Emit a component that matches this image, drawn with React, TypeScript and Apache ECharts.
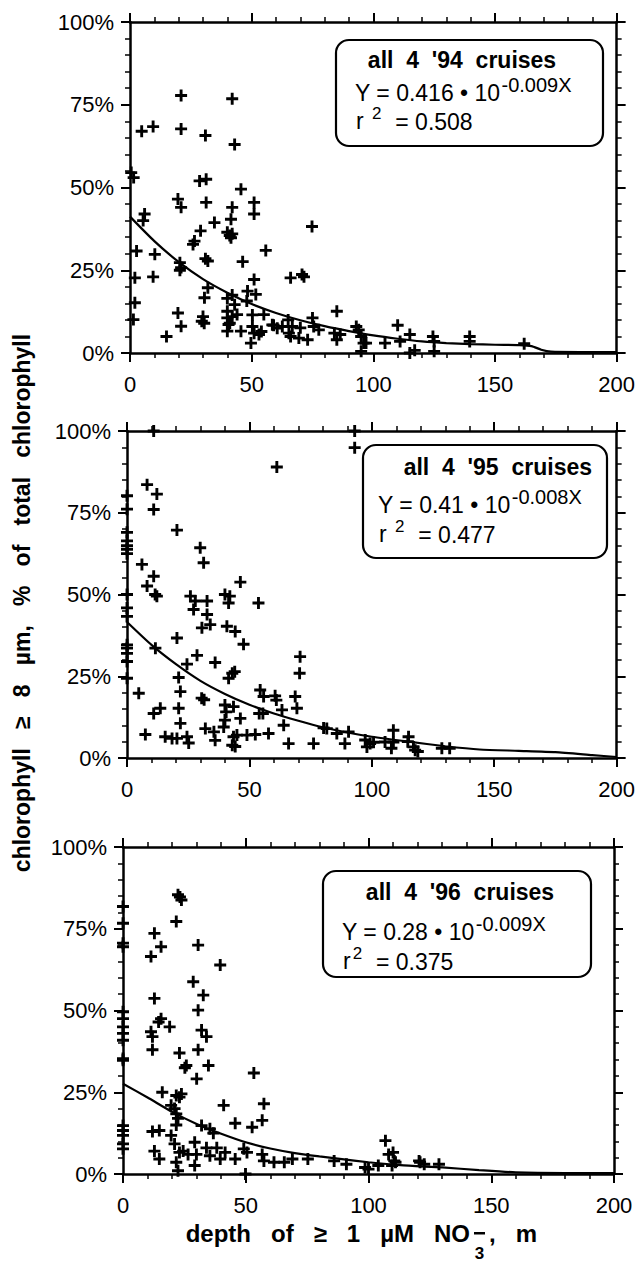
import React, { useEffect, useRef } from 'react';
import * as echarts from 'echarts';

const FONT = '"Liberation Sans", Arial, Helvetica, sans-serif';

// x tick values (m) and y tick values (%)
const xTickValues = [0, 50, 100, 150, 200];
const yTickValues = [0, 25, 50, 75, 100];

// ---- 1994: depth (m), % of chlorophyll >= 8 µm
const points94: number[][] = [
  [0.5, 54.5], [1.5, 53], [4.8, 67], [9.5, 68.4], [21, 77.8], [21, 67.7], [42, 76.8], [31, 65.7], [43, 63],
  [28.6, 52], [31.3, 52.5], [45.6, 49.5], [19.7, 46.5], [21, 44], [31.3, 45.5], [51, 45.5], [51, 42], [42, 44],
  [41.5, 40.4], [6, 42], [5.4, 40], [34.7, 39.4], [29, 36.9], [40, 36.5], [41, 35.5], [42, 36], [41.5, 34.8],
  [74.8, 38.2], [26.5, 33.8], [25.9, 32.8], [2.7, 30.8], [10.2, 29.8], [55.8, 31], [31, 28.5], [32, 27.8],
  [46.3, 27.6], [20.5, 27.3], [21, 25.8], [20.5, 25], [2, 22.7], [9.5, 23], [66, 22.7], [70.7, 23.7], [71.5, 23],
  [51, 22.2], [32, 19.7], [48.3, 18.7], [51.7, 17.7], [30.6, 16.7], [2, 15.2], [85, 12.6], [19.7, 12.1], [30, 11],
  [29.5, 9.6], [30.5, 9], [1.4, 10.1], [21, 8.1], [15, 5], [48, 15.7], [55, 11.6], [59, 8.4], [65, 10], [66.7, 8],
  [75, 10.6], [75.5, 8], [73, 4], [66, 5], [49.7, 3], [53, 5.6], [50.3, 8], [40, 12.6], [40, 10.6], [40.5, 8.6],
  [40, 6.6], [43, 14.6], [44, 11.6], [45.6, 6.6], [40, 16.5], [42, 17.5], [42, 11], [41, 9], [50.3, 11.5], [51, 6],
  [54, 6.5], [58.5, 8.5], [60.5, 7.5], [62.6, 8], [65.3, 6], [70, 7.6], [77.6, 7], [69.4, 4.5], [84, 6], [85, 4],
  [86.4, 5.6], [93, 8], [94, 7], [95, 5], [96, 3], [95, 0.5], [97, 3], [104.8, 3], [110, 8.4], [111, 3.5],
  [115, 5.6], [115, 0], [117, 0.8], [124.5, 5], [125, 3.5], [125, 0.5], [139.6, 5], [139.6, 3.5], [162, 2.8],
];
const fit94: number[][] = [
  [0, 41.2], [10, 33.8], [20, 27.5], [30, 22.3], [40, 18.2], [50, 14.8], [60, 12.1], [70, 9.9], [80, 8.1],
  [90, 6.6], [100, 5.3], [110, 4.3], [120, 3.5], [130, 3.0], [140, 2.7], [150, 2.5], [160, 2.4], [165, 2.1],
  [169, 1.0], [173, 0.4], [185, 0.3], [200, 0.3],
];

// ---- 1995
const points95: number[][] = [
  [10.9, 100], [93, 100], [93, 94.9], [61.2, 89], [8.2, 83.6], [12.2, 80.7], [10.9, 76], [20.4, 69.7], [29.9, 64.3],
  [31.3, 59.7], [6.1, 59.2], [10.9, 55.6], [8.2, 52.6], [12.2, 49.5], [11.5, 50], [46.3, 53.8], [53.7, 47.4],
  [25.9, 49.5], [27.9, 48], [32.7, 48], [27.2, 45.4], [32.7, 43.9], [34, 40.8], [30.6, 39.8], [40, 50], [42, 49.5],
  [41.5, 47.4], [40.8, 40.3], [44.2, 38.7], [47.6, 34.8], [20.4, 36.7], [11.6, 33.6], [28.6, 31.4], [36, 29.2],
  [70.7, 31], [70.5, 25.9], [21.1, 24.6], [24.5, 28.7], [41.5, 24.4], [43, 25.9], [44, 26.4], [4.8, 19.8],
  [21.8, 20.3], [30.5, 18.3], [31.5, 17.8], [54.4, 20.8], [55.8, 18.8], [60.5, 19], [61, 17.7], [68.7, 18.8],
  [69.4, 15.2], [10.9, 13.6], [13.6, 15.2], [21.1, 15.2], [21.8, 10.6], [40, 16.2], [40.5, 14.1], [40, 11.6],
  [39.5, 9.5], [43.5, 15.7], [46.3, 12.1], [54, 13.6], [55.5, 13.6], [63.3, 14.7], [64, 10], [32, 9], [35.5, 8],
  [36, 5.4], [7.5, 7.2], [15.6, 6.5], [18.4, 6], [20.4, 6], [24.5, 6.5], [25.2, 4.6], [43, 3.9], [44.2, 3.5],
  [43.5, 6.5], [44.9, 7], [49, 7], [52.4, 7.2], [57.8, 7.5], [66, 4.4], [76.2, 4.4], [80.3, 9.2], [81.6, 9],
  [85.7, 7.5], [89, 4.4], [90.5, 8], [97.3, 5.5], [99.3, 4.4], [100.7, 4.8], [98, 3.4], [105.4, 4.9], [108.8, 8.5],
  [108.8, 4.9], [115, 6.5], [117, 3.4], [117.7, 2.4], [108, 3], [114.7, 5], [118.8, 2], [128.6, 3], [131.8, 3],
  [0, 80.2], [0, 76.1], [0, 69], [0, 66.4], [0, 64.9], [0, 63.8], [0, 62.5], [0, 50], [0, 45.9], [0, 43.3],
  [0, 34.6], [0, 33.6], [0, 32], [0, 29.5], [0, 24.4],
];
const fit95: number[][] = [
  [0, 41.6], [10, 34.6], [20, 28.7], [30, 23.6], [40, 19.6], [50, 16.3], [60, 13.6], [70, 11.4], [80, 9.4],
  [90, 7.8], [100, 6.5], [115, 5.0], [130, 3.6], [144, 2.6], [160, 2.2], [175, 1.8], [190, 0.9], [200, 0.3],
];

// ---- 1996
const points96: number[][] = [
  [22.4, 85.4], [23.8, 83.8], [23.2, 84.7], [21.7, 77.2], [12.8, 73.6], [15.5, 69.5], [11.4, 66.5], [30.6, 70],
  [39.6, 63.9], [28.6, 58.8], [32.7, 54.7], [12.8, 53.7], [30.6, 50.1], [15.5, 47.5], [14.5, 46.5], [19, 45],
  [11.4, 43.5], [12, 42], [12, 38], [32, 44], [34, 42], [30.6, 38], [23, 37], [25.8, 33.2], [25.2, 32.5],
  [34.8, 33.2], [30, 29.1], [53.3, 30.9], [16, 25], [21.7, 24], [23.8, 24.5], [23, 23.5], [41, 21], [57.4, 21.5],
  [19.6, 21], [21, 20], [21.7, 18.4], [45.7, 15.5], [52.6, 14.3], [56.7, 16.4], [12, 13], [14.8, 13.3], [21.7, 15],
  [22.4, 17], [32, 14.8], [35.4, 13.8], [36.8, 12.5], [19.6, 11.8], [12.8, 7], [14.8, 4.6], [21, 9.2], [23, 6.6],
  [21.7, 3.6], [22.4, 1], [24.5, 7], [26.5, 6], [29.2, 9.7], [29.9, 6], [29.2, 2.6], [34, 8], [35.4, 5.6],
  [38.2, 8], [39.6, 4.6], [41.6, 6.6], [45.7, 4.6], [49.2, 7.7], [50.5, 6.6], [49.9, 0], [56.7, 6], [57.4, 4],
  [61.5, 3.6], [65.7, 3.6], [69, 4.6], [75.3, 4.6], [86, 4], [91, 3], [98.6, 2], [100, 1.5], [104, 2.6],
  [106.9, 10.2], [108.2, 6], [111, 3.6], [109.6, 2.6], [110, 6.6], [110.5, 4], [121, 3.6], [120.6, 4], [122.7, 3],
  [128.7, 3], [0, 81.8], [0, 76.7], [0, 70.6], [0, 69.5], [0, 49.6], [0, 47.5], [0, 45], [0, 43], [0, 40.9],
  [0, 35.3], [0, 34.8], [0, 14.8], [0, 13.3], [0, 11.8], [0, 9.2], [0, 7.7],
];
const fit96: number[][] = [
  [0, 27.6], [10, 23.4], [20, 19.0], [30, 15.3], [40, 12.3], [50, 9.7], [60, 7.8], [70, 6.4], [80, 5.4],
  [90, 4.5], [100, 3.6], [113, 2.7], [130, 2.0], [145, 1.2], [160, 0.5], [180, 0.3], [200, 0.3],
];

// annotation texts
const boxTitles = ["all  4  '94  cruises", "all  4  '95  cruises", "all  4  '96  cruises"];
const eqMain = ['Y = 0.416 • 10', 'Y = 0.41 • 10', 'Y = 0.28 • 10'];
const eqExp = ['-0.009X', '-0.008X', '-0.009X'];
const r2Lead = ['r ', 'r ', 'r'];
const r2Vals = ['  = 0.508', '  = 0.477', '  = 0.375'];

const PLUS = 'path://M3.8,0H6.2V3.8H10V6.2H6.2V10H3.8V6.2H0V3.8H3.8Z';

// layout (pixels)
const grids = [
  { left: 130, right: 19, top: 22, height: 331 },
  { left: 127, right: 21, top: 431, height: 327 },
  { left: 123, right: 24, top: 847, height: 327 },
];
const boxes = [
  { x: 336, y: 40, w: 267, h: 106, tx: 462, tAlign: 'center', ty: 60, lx: 355, l2: 93, l3: 121 },
  { x: 363, y: 445, w: 244, h: 113, tx: 592, tAlign: 'right', ty: 467, lx: 378, l2: 505, l3: 534 },
  { x: 323, y: 871, w: 268, h: 106, tx: 460, tAlign: 'center', ty: 892, lx: 342, l2: 932, l3: 961 },
];

const MAIN_SIZE = 23;
const SUP_SIZE = 20;

function measure(text: string, font: string): number {
  const c = document.createElement('canvas').getContext('2d');
  if (!c) return text.length * 12;
  c.font = font;
  return c.measureText(text).width;
}

function txt(x: number, y: number, text: string, font: string, align = 'left', extra: any = {}) {
  return {
    type: 'text', x, y, z: 11, ...extra,
    style: {
      text, fill: '#000', font,
      align, verticalAlign: 'middle', textAlign: align, textVerticalAlign: 'middle',
    },
  };
}

export default function App() {
  const ref = useRef<HTMLDivElement>(null);
  useEffect(() => {
    document.body.style.margin = '0';
    const chart = echarts.init(ref.current!, null, { renderer: 'svg' });
    const allPoints = [points94, points95, points96];
    const allFits = [fit94, fit95, fit96];
    const black = '#000';
    const mainFont = `${MAIN_SIZE}px ${FONT}`;
    const supFont = `${SUP_SIZE}px ${FONT}`;
    const sup2Font = `17px ${FONT}`;
    const xAxes: any[] = [];
    const yAxes: any[] = [];
    const series: any[] = [];
    const graphic: any[] = [];
    grids.forEach((g, i) => {
      const common = {
        gridIndex: i,
        type: 'value',
        axisLine: { show: true, onZero: false, lineStyle: { color: black, width: 2.5 } },
        axisTick: { show: true, length: 9, lineStyle: { color: black, width: 2 } },
        minorTick: { show: true, splitNumber: 5, length: 5, lineStyle: { color: black, width: 1.5 } },
        splitLine: { show: false },
        minorSplitLine: { show: false },
      };
      xAxes.push({
        ...common, position: 'bottom', min: xTickValues[0], max: xTickValues[xTickValues.length - 1], interval: 50,
        axisLabel: { show: true, color: black, fontSize: 22, fontFamily: FONT, margin: 20 },
      });
      xAxes.push({
        ...common, position: 'top', min: xTickValues[0], max: xTickValues[xTickValues.length - 1], interval: 50,
        axisLabel: { show: false },
      });
      yAxes.push({
        ...common, position: 'left', min: yTickValues[0], max: yTickValues[yTickValues.length - 1], interval: 25,
        axisLabel: { show: true, color: black, fontSize: 22, fontFamily: FONT, margin: 16, formatter: (v: number) => v + '%' },
      });
      yAxes.push({
        ...common, position: 'right', min: yTickValues[0], max: yTickValues[yTickValues.length - 1], interval: 25,
        axisLabel: { show: false },
      });
      series.push({
        type: 'line', xAxisIndex: 2 * i, yAxisIndex: 2 * i, data: allFits[i], symbol: 'none', smooth: 0.2,
        lineStyle: { color: black, width: 2.2 }, z: 2,
      });
      series.push({
        type: 'scatter', xAxisIndex: 2 * i, yAxisIndex: 2 * i, data: allPoints[i], symbol: PLUS, symbolSize: 12,
        itemStyle: { color: black, opacity: 1 }, z: 3, clip: false,
      });
      const b = boxes[i];
      graphic.push({
        type: 'rect', shape: { x: b.x, y: b.y, width: b.w, height: b.h, r: 13 },
        style: { fill: '#fff', stroke: black, lineWidth: 2.2 }, z: 10,
      });
      graphic.push(txt(b.tx, b.ty, boxTitles[i], `bold 23px ${FONT}`, b.tAlign));
      // equation line: main text + superscript exponent
      const wMain = measure(eqMain[i], mainFont);
      graphic.push(txt(b.lx, b.l2, eqMain[i], mainFont));
      graphic.push(txt(b.lx + wMain + 1, b.l2 - 8, eqExp[i], supFont));
      // r² line
      const wR = measure(r2Lead[i], mainFont);
      const wS = measure('2', sup2Font);
      graphic.push(txt(b.lx + 1, b.l3, r2Lead[i], mainFont));
      graphic.push(txt(b.lx + wR + 3, b.l3 - 8, '2', sup2Font));
      graphic.push(txt(b.lx + wR + wS + 4, b.l3 + 1, r2Vals[i], mainFont));
    });
    // y-axis title
    graphic.push(txt(22, 603, 'chlorophyll   ≥   8   µm,   %   of   total   chlorophyll', `bold 23px ${FONT}`, 'center', { rotation: Math.PI / 2 }));
    // x-axis title with stacked NO3-
    const xT = 470;
    const yT = 1233;
    graphic.push(txt(xT, yT, 'depth   of   ≥   1   µM   NO', `bold 24px ${FONT}`, 'right'));
    graphic.push({
      type: 'rect', shape: { x: xT + 4, y: yT - 1, width: 11, height: 2.5 }, style: { fill: black }, z: 11,
    });
    graphic.push(txt(xT + 9.5, yT + 20, '3', `bold 17px ${FONT}`, 'center'));
    graphic.push(txt(xT + 19, yT, ',   m', `bold 24px ${FONT}`, 'left'));

    chart.setOption({
      animation: false,
      backgroundColor: '#fff',
      grid: grids.map((g) => ({ ...g, containLabel: false })),
      xAxis: xAxes,
      yAxis: yAxes,
      series,
      graphic: { elements: graphic },
    });
    return () => chart.dispose();
  }, []);
  return <div ref={ref} style={{ width: 638, height: 1273, background: '#fff' }} />;
}
